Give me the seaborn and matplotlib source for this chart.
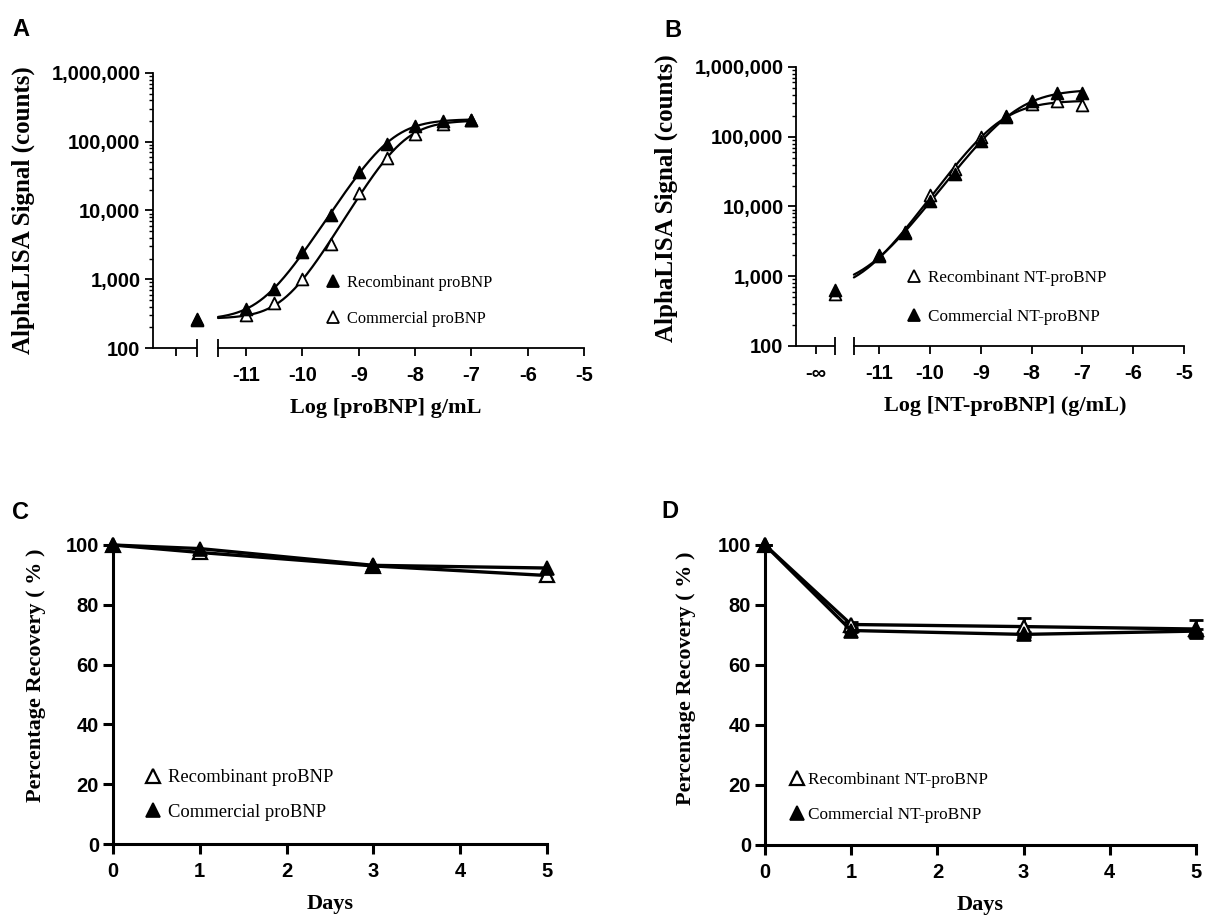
import numpy as np
import pandas as pd
import matplotlib
matplotlib.use("Agg")
import matplotlib.pyplot as plt
import seaborn as sns
from matplotlib.lines import Line2D
from matplotlib.ticker import FixedLocator, FuncFormatter, NullFormatter

# ---------------- data ----------------
log_conc = [-11, -10.5, -10, -9.5, -9, -8.5, -8, -7.5, -7]

# Panel A (proBNP)
A_recomb = [365, 733, 2490, 8650, 35900, 92500, 170000, 200000, 210000]
A_commer = [300, 445, 1000, 3210, 18000, 58000, 129000, 184000, 205000]
A_recomb_zero = 260
A_commer_zero = 255

# Panel B (NT-proBNP)
B_recomb = [1950, 4300, 14500, 35000, 98000, 195000, 295000, 325000, 285000]
B_commer = [2000, 4200, 12000, 29000, 87000, 200000, 325000, 430000, 420000]
B_recomb_zero = 560
B_commer_zero = 640

# Panels C / D (stability)
days = [0, 1, 3, 5]
C_recomb = [100, 97.5, 93.0, 89.8]
C_commer = [100, 98.8, 93.2, 92.3]
D_recomb = [100, 73.5, 72.8, 72.0]
D_commer = [100, 71.5, 70.2, 71.3]
D_recomb_err = [0, 0.8, 3.0, 3.0]
D_commer_err = [0, 0.5, 0.8, 0.8]

y_log_ticks = [100, 1000, 10000, 100000, 1000000]
x_log_ticks = [-11, -10, -9, -8, -7, -6, -5]
pct_ticks = [0, 20, 40, 60, 80, 100]
day_ticks = [0, 1, 2, 3, 4, 5]

# ---------------- layout constants ----------------
W, H = 1207, 916
NEG_TICK = -12.25     # position of the "-inf" tick
BREAK_END = -11.88    # end of first axis segment / position of blank points
BREAK_START = -11.5   # start of second axis segment
SERIF = ["Liberation Serif", "DejaVu Serif"]
SANS = ["Liberation Sans", "DejaVu Sans"]
TICK_FS = 14.5


def fit4pl(x, y):
    x = np.asarray(x, float)
    ly = np.log10(np.asarray(y, float))
    fin = np.isfinite(x)
    p = np.array([ly.min(), ly.max(), np.mean(x[fin]), 1.0])

    def model(p, xx):
        B, T = 10 ** p[0], 10 ** p[1]
        with np.errstate(over="ignore", invalid="ignore"):
            return np.log10(B + (T - B) / (1 + 10 ** ((p[2] - xx) * p[3])))

    lam = 1e-2
    for _ in range(600):
        r = model(p, x) - ly
        J = np.empty((len(x), 4))
        for k in range(4):
            dp = np.zeros(4)
            dp[k] = 1e-6
            J[:, k] = (model(p + dp, x) - model(p - dp, x)) / 2e-6
        J = np.nan_to_num(J)
        A = J.T @ J
        g = J.T @ r
        step = np.linalg.solve(A + lam * np.diag(np.diag(A) + 1e-9), -g)
        pn = p + step
        if np.sum((model(pn, x) - ly) ** 2) < np.sum(r ** 2):
            p = pn
            lam *= 0.3
        else:
            lam *= 10
    return lambda xx: 10 ** model(p, np.asarray(xx, float))


sns.set_theme(style="ticks")
plt.rcParams["font.family"] = SANS
plt.rcParams["axes.facecolor"] = "white"
plt.rcParams["figure.facecolor"] = "white"
plt.rcParams["text.color"] = "black"
plt.rcParams["axes.labelcolor"] = "black"
plt.rcParams["xtick.color"] = "black"
plt.rcParams["ytick.color"] = "black"
plt.rcParams["axes.edgecolor"] = "black"

fig = plt.figure(figsize=(W / 100, H / 100), dpi=100)


def px_rect(left, right, top, bottom):
    return [left / W, 1 - bottom / H, (right - left) / W, (bottom - top) / H]


axA = fig.add_axes(px_rect(153, 584, 73, 348))
axB = fig.add_axes(px_rect(796, 1184, 67, 346))
axC = fig.add_axes(px_rect(113, 547, 545, 844))
axD = fig.add_axes(px_rect(765, 1196, 545, 845))


def legend_px(ax, handles, labels, mx, tx, ry, spacing, fs):
    fpx = fs * 100 / 72
    hl = 1.0
    left = mx - hl * fpx / 2
    pad = (tx - left - hl * fpx) / fpx
    row_h = 0.95 * fpx
    top = ry - row_h / 2
    ls = (spacing - row_h) / fpx
    ax.legend(handles, labels, loc="upper left",
              bbox_to_anchor=(left / W, 1 - top / H),
              bbox_transform=fig.transFigure, frameon=False,
              prop={"family": SERIF, "size": fs},
              handlelength=hl, handletextpad=pad, labelspacing=ls,
              borderpad=0, borderaxespad=0)


def tri(filled, ms, mew):
    return Line2D([], [], ls="", marker="^", ms=ms, mew=mew,
                  mfc="black" if filled else "white", mec="black")


def dose_panel(ax, xleft, neg_label, series, xlabel, leg, ylab_y):
    AX_LW = 1.3
    ax.set_yscale("log")
    ax.set_ylim(100, 1e6)
    ax.set_xlim(xleft, -5)
    for name, vals, zero, filled in series:
        f = fit4pl([-np.inf] + log_conc, [zero] + vals)
        xs = np.linspace(BREAK_START, -7, 200)
        sns.lineplot(x=xs, y=f(xs), ax=ax, color="black", lw=1.6, sort=False)
    for name, vals, zero, filled in series:
        sns.scatterplot(x=[BREAK_END] + log_conc, y=[zero] + vals, ax=ax,
                        marker="^", s=8.5 ** 2,
                        facecolor="black" if filled else "white",
                        edgecolor="black", linewidth=1.3, zorder=5,
                        clip_on=False)
    ax.spines[["top", "right"]].set_visible(False)
    for s in ["left", "bottom"]:
        ax.spines[s].set_linewidth(AX_LW)
    ax.spines["bottom"].set_bounds(BREAK_START, -5)
    ax.plot([xleft, BREAK_END], [0, 0], transform=ax.get_xaxis_transform(),
            color="black", lw=AX_LW, clip_on=False, solid_capstyle="butt")
    ax.xaxis.set_major_locator(FixedLocator([NEG_TICK] + x_log_ticks))
    ax.set_xticklabels([neg_label] + [str(v) for v in x_log_ticks])
    ax.xaxis.set_minor_locator(FixedLocator([BREAK_END, BREAK_START]))
    ax.tick_params(axis="x", which="minor", direction="inout", length=13,
                   width=AX_LW)
    ax.tick_params(axis="x", which="major", direction="out", length=6,
                   width=AX_LW, pad=7, labelsize=TICK_FS)
    ax.yaxis.set_major_locator(FixedLocator(y_log_ticks))
    ax.yaxis.set_major_formatter(FuncFormatter(lambda v, p: f"{v:,.0f}"))
    ax.yaxis.set_minor_locator(FixedLocator(
        [m * 10 ** e for e in range(2, 6) for m in range(2, 10)]))
    ax.yaxis.set_minor_formatter(NullFormatter())
    ax.tick_params(axis="y", which="major", direction="out", length=6,
                   width=AX_LW, pad=3, labelsize=TICK_FS)
    ax.tick_params(axis="y", which="minor", direction="out", length=3,
                   width=1.0)
    for lab in ax.get_xticklabels() + ax.get_yticklabels():
        lab.set_fontweight("bold")
    ax.set_ylabel("AlphaLISA Signal (counts)", family=SERIF,
                  fontweight="bold", fontsize=18)
    ax.yaxis.set_label_coords(-118 / ax.bbox.width, ylab_y)
    ax.set_xlabel(xlabel, family=SERIF, fontweight="bold", fontsize=16)
    ax.xaxis.set_label_coords(0.54, -50 / ax.bbox.height)
    ax.xaxis.label.set_va("top")
    handles = [tri(filled, 8.5, 1.3) for _, _, _, filled in leg["items"]]
    labels = [n for n, _, _, _ in leg["items"]]
    legend_px(ax, handles, labels, *leg["geom"])


dose_panel(axA, -12.655, "",
           [("Commercial proBNP", A_commer, A_commer_zero, False),
            ("Recombinant proBNP", A_recomb, A_recomb_zero, True)],
           "Log [proBNP] g/mL",
           {"items": [("Recombinant proBNP", None, None, True),
                      ("Commercial proBNP", None, None, False)],
            "geom": (333, 347, 283, 35, 11.8)}, 0.5)

dose_panel(axB, -12.64, "-\u221e",
           [("Recombinant NT-proBNP", B_recomb, B_recomb_zero, False),
            ("Commercial NT-proBNP", B_commer, B_commer_zero, True)],
           "Log [NT-proBNP] (g/mL)",
           {"items": [("Recombinant NT-proBNP", None, None, False),
                      ("Commercial NT-proBNP", None, None, True)],
            "geom": (914, 928, 278, 39, 12.3)}, 0.53)


def stab_panel(ax, rec, com, names, geom, ylab_px, ylab_y,
               rec_err=None, com_err=None):
    AX_LW = 2.2
    ax.set_xlim(0, 5)
    ax.set_ylim(0, 100)
    df = pd.DataFrame({"day": days, "rec": rec, "com": com})
    if rec_err is not None:
        ax.errorbar(days, rec, yerr=rec_err, fmt="none", ecolor="black",
                    elinewidth=2, capsize=5, capthick=2, clip_on=False)
        ax.errorbar(days, com, yerr=com_err, fmt="none", ecolor="black",
                    elinewidth=2, capsize=5, capthick=2, clip_on=False)
    sns.lineplot(data=df, x="day", y="rec", ax=ax, color="black", lw=2.4,
                 marker="^", markersize=10, markerfacecolor="white",
                 markeredgecolor="black", markeredgewidth=1.6, clip_on=False)
    sns.lineplot(data=df, x="day", y="com", ax=ax, color="black", lw=2.4,
                 marker="^", markersize=10, markerfacecolor="black",
                 markeredgecolor="black", markeredgewidth=1.2, clip_on=False)
    ax.spines[["top", "right"]].set_visible(False)
    for s in ["left", "bottom"]:
        ax.spines[s].set_linewidth(AX_LW)
    ax.xaxis.set_major_locator(FixedLocator(day_ticks))
    ax.yaxis.set_major_locator(FixedLocator(pct_ticks))
    ax.tick_params(axis="both", direction="out", length=7, width=AX_LW,
                   labelsize=TICK_FS)
    ax.tick_params(axis="x", pad=6)
    ax.tick_params(axis="y", pad=3)
    for lab in ax.get_xticklabels() + ax.get_yticklabels():
        lab.set_fontweight("bold")
    ax.set_ylabel("Percentage Recovery ( % )", family=SERIF,
                  fontweight="bold", fontsize=16)
    ax.yaxis.set_label_coords(ylab_px / ax.bbox.width, ylab_y)
    ax.set_xlabel("Days", family=SERIF, fontweight="bold", fontsize=16)
    ax.xaxis.set_label_coords(0.5, -50 / ax.bbox.height)
    ax.xaxis.label.set_va("top")
    handles = [tri(False, 10, 1.6), tri(True, 10, 1.2)]
    legend_px(ax, handles, names, *geom)


stab_panel(axC, C_recomb, C_commer,
           ["Recombinant proBNP", "Commercial proBNP"],
           (153, 168, 778, 35, 13.4), -67, 0.565)
stab_panel(axD, D_recomb, D_commer,
           ["Recombinant NT-proBNP", "Commercial NT-proBNP"],
           (797, 808, 780, 35, 12.4), -69, 0.557, D_recomb_err, D_commer_err)

for letter, x, y in [("A", 12, 18), ("B", 664, 19), ("C", 12, 501), ("D", 661, 500)]:
    fig.text(x / W, 1 - y / H, letter, fontsize=17, fontweight="bold",
             family=SANS, va="top", ha="left")

fig.savefig("out.png", dpi=100)
